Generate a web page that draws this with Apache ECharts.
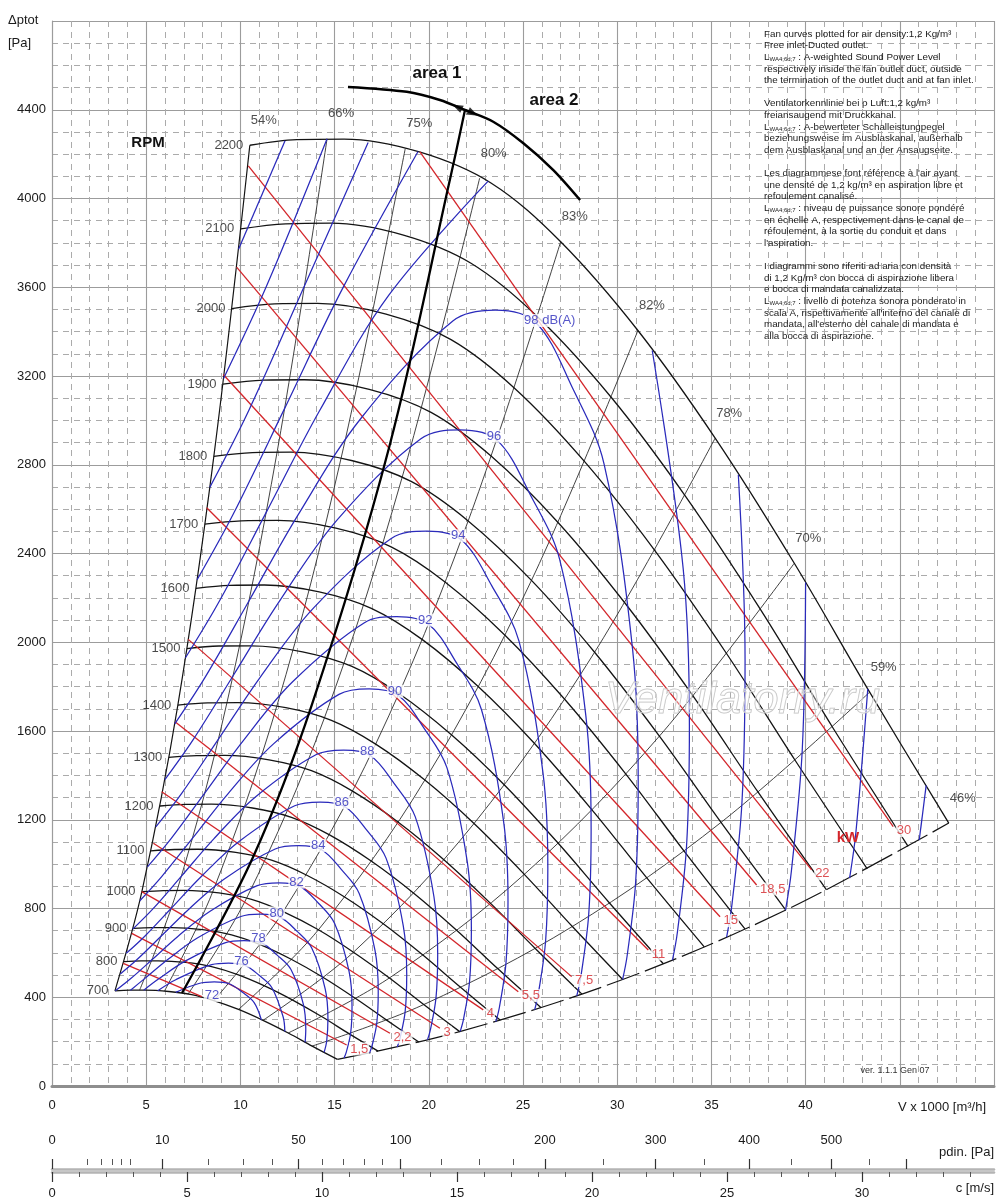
<!DOCTYPE html>
<html><head><meta charset="utf-8">
<script src="https://cdn.jsdelivr.net/npm/echarts@6/dist/echarts.min.js"></script>
<style>html,body{margin:0;padding:0;background:#fff}#c{width:1000px;height:1204px}</style>
</head><body><div id="c"></div>
<script>
// ---------- DATA (V x1000 m3/h , dp Pa) ----------
const rpmNames = [700,800,900,1000,1100,1200,1300,1400,1500,1600,1700,1800,1900,2000,2100,2200];
const rpm700 = [[3.34,429],[4.14,432],[4.93,432],[6.2,426],[7.41,412],[8.59,385],[9.9,345],[11.2,296],[12.54,239],[13.81,180],[15.15,120]];
const rpm800 = [[3.82,561],[4.73,564],[5.64,564],[7.09,557],[8.47,538],[9.82,503],[11.31,450],[12.8,386],[14.33,312],[15.78,235],[17.31,157]];
const rpm900 = [[4.3,710],[5.32,714],[6.34,714],[7.98,705],[9.53,681],[11.05,637],[12.72,570],[14.4,489],[16.12,394],[17.76,297],[19.47,198]];
const rpm1000 = [[4.77,876],[5.91,881],[7.05,882],[8.86,870],[10.59,841],[12.27,786],[14.14,704],[16.0,603],[17.91,487],[19.73,367],[21.64,245]];
const rpm1100 = [[5.25,1060],[6.5,1066],[7.75,1067],[9.75,1053],[11.65,1018],[13.5,951],[15.55,851],[17.6,730],[19.7,589],[21.7,444],[23.8,296]];
const rpm1200 = [[5.73,1262],[7.09,1269],[8.46,1270],[10.64,1253],[12.71,1211],[14.73,1132],[16.96,1013],[19.2,869],[21.49,701],[23.67,528],[25.96,353]];
const rpm1300 = [[6.2,1481],[7.68,1489],[9.16,1490],[11.52,1470],[13.77,1421],[15.95,1329],[18.38,1189],[20.8,1020],[23.28,823],[25.65,620],[28.13,414]];
const rpm1400 = [[6.68,1717],[8.27,1727],[9.86,1728],[12.41,1705],[14.83,1648],[17.18,1541],[19.79,1379],[22.4,1183],[25.07,954],[27.62,719],[30.29,480]];
const rpm1500 = [[7.16,1971],[8.86,1983],[10.57,1984],[13.3,1957],[15.89,1892],[18.41,1769],[21.2,1583],[24.0,1358],[26.86,1095],[29.59,825],[32.45,551]];
const rpm1600 = [[7.64,2243],[9.45,2256],[11.27,2258],[14.18,2227],[16.95,2153],[19.64,2013],[22.62,1801],[25.6,1545],[28.65,1246],[31.56,939],[34.62,627]];
const rpm1700 = [[8.11,2532],[10.05,2547],[11.98,2549],[15.07,2514],[18.0,2430],[20.86,2272],[24.03,2033],[27.2,1744],[30.45,1407],[33.54,1060],[36.78,708]];
const rpm1800 = [[8.59,2838],[10.64,2855],[12.68,2857],[15.95,2818],[19.06,2725],[22.09,2547],[25.45,2279],[28.8,1955],[32.24,1577],[35.51,1188],[38.95,793]];
const rpm1900 = [[9.07,3163],[11.23,3181],[13.39,3183],[16.84,3140],[20.12,3036],[23.32,2838],[26.86,2540],[30.4,2178],[34.03,1757],[37.48,1324],[41.11,884]];
const rpm2000 = [[9.55,3504],[11.82,3525],[14.09,3527],[17.73,3479],[21.18,3364],[24.55,3145],[28.27,2814],[32.0,2413],[35.82,1947],[39.45,1467],[43.27,979]];
const rpm2100 = [[10.02,3863],[12.41,3886],[14.8,3889],[18.61,3836],[22.24,3708],[25.77,3467],[29.69,3103],[33.6,2661],[37.61,2147],[41.43,1617],[45.44,1080]];
const rpm2200 = [[10.5,4240],[13,4265],[15.5,4268],[19.5,4210],[23.3,4070],[27,3805],[31.1,3405],[35.2,2920],[39.4,2356],[43.4,1775],[47.6,1185]];
const rpmCurves = [rpm700,rpm800,rpm900,rpm1000,rpm1100,rpm1200,rpm1300,rpm1400,rpm1500,rpm1600,rpm1700,rpm1800,rpm1900,rpm2000,rpm2100,rpm2200];

const effNames = ['54%','66%','75%','80%','83%','82%','78%','70%','59%','46%'];
const eff54 = [[3.34,429],[4.77,876],[6.68,1717],[8.59,2838],[10.5,4240]];
const eff66 = [[4.65,432],[6.64,882],[9.29,1729],[11.95,2858],[14.6,4269]];
const eff75 = [[5.97,428],[8.52,873],[11.93,1711],[15.34,2828],[18.75,4225]];
const eff80 = [[7.22,414],[10.32,845],[14.45,1657],[18.57,2739],[22.7,4092]];
const eff83 = [[8.59,385],[12.27,786],[17.18,1541],[22.09,2547],[27,3805]];
const eff82 = [[9.9,345],[14.14,704],[19.79,1379],[25.45,2279],[31.1,3405]];
const eff78 = [[11.2,296],[16.0,603],[22.4,1183],[28.8,1955],[35.2,2920]];
const eff70 = [[12.54,239],[17.91,487],[25.07,954],[32.24,1577],[39.4,2356]];
const eff59 = [[13.81,180],[19.73,367],[27.62,719],[35.51,1188],[43.4,1775]];
const eff46 = [[15.15,120],[21.64,245],[30.29,480],[38.95,793],[47.6,1185]];
const effLines = [eff54,eff66,eff75,eff80,eff83,eff82,eff78,eff70,eff59,eff46];

const kwNames = ['30','22','18,5','15','11','7,5','5,5','4','3','2,2','1,5',''];
const kw30 = [[19.53,4210],[44.65,1169]];
const kw22 = [[10.42,4147],[40.32,974]];
const kw18_5 = [[9.8,3691],[37.4,906]];
const kw15 = [[9.09,3207],[35.46,763]];
const kw11 = [[8.21,2606],[31.65,613]];
const kw7_5 = [[7.23,2013],[27.58,493]];
const kw5_5 = [[6.53,1642],[24.75,425]];
const kw4 = [[5.82,1326],[22.89,343]];
const kw3 = [[5.38,1094],[20.59,260]];
const kw2_2 = [[4.76,876],[17.94,238]];
const kw1_5 = [[4.23,688],[15.64,185]];
const kw1_1 = [[3.78,553],[7.95,403]];
const kwLines = [kw30,kw22,kw18_5,kw15,kw11,kw7_5,kw5_5,kw4,kw3,kw2_2,kw1_5,kw1_1];

const db98 = [[6.515,1632],[8.139,1844],[10.445,2185],[13.053,2573],[16.434,3013],[21.291,3449],[23.528,3497],[25.677,3441],[27.61,3149],[29.301,2804],[30.813,1971],[31.115,1373],[30.977,916],[30.528,587],[30.286,480]];
const db96 = [[5.992,1381],[7.485,1560],[9.606,1848],[12.004,2176],[15.114,2549],[19.581,2917],[21.638,2957],[23.615,2911],[25.393,2664],[26.948,2372],[28.338,1667],[28.616,1161],[28.489,775],[28.077,496],[27.854,406]];
const db94 = [[5.51,1168],[6.884,1319],[8.834,1563],[11.04,1841],[13.9,2156],[18.008,2468],[19.9,2501],[21.718,2462],[23.353,2253],[24.783,2006],[26.062,1410],[26.318,982],[26.201,655],[25.822,420],[25.617,343]];
const db92 = [[5.068,988],[6.331,1116],[8.125,1322],[10.154,1557],[12.784,1823],[16.561,2087],[18.302,2116],[19.974,2082],[21.478,1906],[22.793,1697],[23.969,1193],[24.204,831],[24.096,554],[23.748,355],[23.559,290]];
const db90 = [[4.661,835],[5.822,944],[7.472,1118],[9.338,1317],[11.757,1542],[15.231,1765],[16.832,1790],[18.369,1761],[19.752,1612],[20.962,1435],[22.044,1009],[22.26,703],[22.161,469],[21.84,300],[21.667,246]];
const db88 = [[4.286,707],[5.355,798],[6.872,946],[8.588,1114],[10.813,1304],[14.008,1493],[15.48,1514],[16.894,1490],[18.166,1363],[19.278,1214],[20.273,853],[20.472,594],[20.381,397],[20.086,254],[19.927,208]];
const db86 = [[3.942,598],[4.925,675],[6.32,800],[7.898,942],[9.944,1103],[12.883,1263],[14.236,1280],[15.537,1260],[16.707,1153],[17.73,1027],[18.645,722],[18.828,503],[18.744,335],[18.473,215],[18.326,176]];
const db84 = [[3.625,505],[4.529,571],[5.813,677],[7.264,797],[9.146,933],[11.848,1068],[13.093,1083],[14.289,1066],[15.365,975],[16.306,868],[17.147,610],[17.316,425],[17.239,284],[16.989,182],[16.854,149]];
const db82 = [[3.362,429],[4.165,483],[5.346,572],[6.68,674],[8.411,789],[10.896,903],[12.041,916],[13.141,901],[14.131,825],[14.996,734],[15.77,516],[15.925,360],[15.854,240],[15.625,154],[15.5,126]];
const db80 = [[4.167,432],[4.916,484],[6.144,570],[7.735,668],[10.021,764],[11.074,775],[12.086,762],[12.996,698],[13.792,621],[14.503,437],[14.646,304],[14.581,203],[14.443,152]];
const db78 = [[4.871,432],[5.65,482],[7.114,565],[9.216,646],[10.185,655],[11.115,645],[11.952,590],[12.684,525],[13.339,369],[13.47,257],[13.436,197]];
const db76 = [[5.613,429],[6.543,478],[8.476,547],[9.367,554],[10.222,545],[10.992,499],[11.666,444],[12.267,312],[12.358,246]];
const db74 = [[6.567,422],[7.796,462],[8.614,469],[9.401,461],[10.109,422],[10.729,376],[11.119,297]];
const db100L = [[7.084,1930],[8.85,2180],[11.357,2583],[14.193,3042],[17.869,3563],[23.15,4078]];
const db100R = [[31.86,3315],[33.504,2330],[33.832,1623],[33.682,1083],[33.195,693],[32.932,567]];
const db102L = [[7.703,2282],[9.622,2578],[12.349,3054],[15.432,3596],[19.43,4212]];
const db102R = [[36.43,2755],[36.787,1919],[36.624,1281],[36.094,820],[35.808,671]];
const db104L = [[8.375,2698],[10.463,3048],[13.427,3611],[16.78,4252]];
const db104R = [[40,2269],[39.822,1514],[39.246,969],[38.935,793]];
const db106L = [[9.107,3189],[11.376,3603],[14.6,4269]];
const db106R = [[43.3,1790],[42.673,1146],[42.335,937]];
const db108L = [[9.902,3771],[12.37,4260]];
const db108R = [[46.4,1355],[46.032,1108]];
const dbCurves = [db98,db96,db94,db92,db90,db88,db86,db84,db82,db80,db78,db76,db74,db100L,db100R,db102L,db102R,db104L,db104R,db106L,db106R,db108L,db108R];
// dB label: [level, V, p] where the contour crosses the 83% line
const dbLabels = [[98,25.677,3441],[96,23.615,2911],[94,21.718,2462],[92,19.974,2082],[90,18.369,1761],[88,16.894,1490],[86,15.537,1260],[84,14.289,1066],[82,13.141,901],[80,12.086,762],[78,11.115,645],[76,10.222,545],[72,8.646,390]];

const areaLine = [[6.9,419],[10.68,1033],[13.8,1720],[17.9,2880],[21.14,4092],[21.92,4399]];
const areaArc = [[15.71,4503],[18.83,4481],[20.59,4444],[21.92,4399],[23.42,4346],[25.02,4249],[26.61,4128],[28.03,3993]];
// arrowheads on the area boundary: [V, p, direction in degrees]
const areaArrows = [[21.5,4413,64],[22.35,4384,-116]];

// axis ticks
const xTickLabels = [0,5,10,15,20,25,30,35,40];
const pdinLabels = [0,10,50,100,200,300,400,500];
const pdinMajorTicks = [0,10,50,100,200,300,400,500,600];
const pdinMinorTicks = [1,2,3,4,5,20,30,40,60,70,80,90,125,150,175,250,350,450,550];
const cMajorTicks = [0,5,10,15,20,25,30];
const cMinorTicks = [1,2,3,4,6,7,8,9,11,12,13,14,16,17,18,19,21,22,23,24,26,27,28,29,31,32,33,34];
const C_MAX = 34.89;
function pdinToC(p){ return Math.sqrt(p/0.6); }

const noteLines = [
 'Fan curves plotted for air density:1,2 Kg/m³',
 'Free inlet-Ducted outlet.',
 '§ : A-weighted Sound Power Level',
 'respectively inside the fan outlet duct, outside',
 'the termination of the outlet duct and at fan inlet.',
 '',
 'Ventilatorkennlinie bei ρ Luft:1,2 kg/m³',
 'freiansaugend mit Druckkanal.',
 '§ : A-bewerteter Schalleistungpegel',
 'beziehungsweise im Ausblaskanal, außerhalb',
 'dem Ausblaskanal und an der Ansaugseite.',
 '',
 "Les diagrammese font référence à l'air ayant",
 'une densité de 1,2 kg/m³ en aspiration libre et',
 'refoulement canalisé.',
 '§ : niveau de puissance sonore pondéré',
 'en échelle A, respectivement dans le canal de',
 'réfoulement, à la sortie du conduit et dans',
 "l'aspiration.",
 '',
 'I diagrammi sono riferiti ad aria con densità',
 'di 1,2 Kg/m³ con bocca di aspirazione libera',
 'e bocca di mandata canalizzata.',
 '§ : livello di potenza sonora ponderato in',
 "scala A, rispettivamente all'interno del canale di",
 "mandata, all'esterno del canale di mandata e",
 'alla bocca di aspirazione.'
];

// ---------- CHART ----------
const FONT = "'Liberation Sans', Arial, Helvetica, sans-serif";
const BLACK = '#141414', EFF = '#2e2e2e', RED = '#d3252a', BLUE = '#2a2abb';

function ln(data, color, width, z, extra){
  return Object.assign({type:'line', xAxisIndex:0, yAxisIndex:0, data:data, showSymbol:false, symbol:'none',
    smooth:0.35, silent:true, animation:false, lineStyle:{color:color, width:width}, z:z}, extra||{});
}
const series = [];
effLines.forEach(function(d,i){
  if (i===0) series.push(ln(d, BLACK, 1.2, 2));
  else if (i===effLines.length-1) series.push(ln(d, BLACK, 1.2, 2, {lineStyle:{color:BLACK,width:1.2,type:[34,6]}}));
  else series.push(ln(d, EFF, 0.9, 2));
});
rpmCurves.forEach(function(d){ series.push(ln(d, BLACK, 1.3, 3)); });
kwLines.forEach(function(d){ series.push(ln(d, RED, 1.3, 4, {smooth:false})); });
dbCurves.forEach(function(d){ series.push(ln(d, BLUE, 1.25, 5)); });
series.push(ln(areaLine, '#000', 2.3, 6));
series.push(ln(areaArc, '#000', 2.5, 6, {smooth:0.3}));

function labelScatter(data, label, z){
  return {type:'scatter', xAxisIndex:0, yAxisIndex:0, silent:true, animation:false, z:z||20,
    symbolSize:1, itemStyle:{color:'rgba(0,0,0,0)'}, data:data,
    label:Object.assign({show:true, formatter:'{b}', fontFamily:FONT, fontSize:13}, label)};
}
series.push(labelScatter(rpmCurves.map(function(c,i){return {value:c[0], name:String(rpmNames[i])};}),
  {position:'left', distance:6, color:'#1a1a1a'}));
series.push(labelScatter(effLines.map(function(c,i){return {value:c[c.length-1], name:effNames[i]};}),
  {position:'inside', offset:[14,-25], color:'#222'}));
series.push(labelScatter(dbLabels.map(function(d){
    const item = {value:[d[1],d[2]], name: d[0]===98 ? '98 dB(A)' : String(d[0])};
    if (d[0]===98) item.label = {offset:[14,-2]};
    return item;}),
  {position:'inside', offset:[-3,-4], color:BLUE, backgroundColor:'#fff', padding:[0,1]}, 22));
series.push(labelScatter(kwLines.map(function(c,i){return {value:c[1], name:kwNames[i]};}).filter(function(d){return d.name;}),
  {position:'right', distance:2, offset:[0,4], color:RED, backgroundColor:'#fff', padding:[0,1]}, 21));
series.push({type:'scatter', xAxisIndex:0, yAxisIndex:0, silent:true, animation:false, z:25, symbol:'triangle',
  symbolSize:[8,11], itemStyle:{color:'#000'},
  data:areaArrows.map(function(a){return {value:[a[0],a[1]], symbolRotate:a[2]};})});

const graphics = [];
function txt(x,y,text,font,fill,align,extra){
  graphics.push(Object.assign({type:'text', x:x, y:y, z:100, silent:true,
    style:{text:text, font:font, fill:fill||'#1a1a1a', align:align||'left', verticalAlign:'middle',
      textAlign:align||'left', textVerticalAlign:'middle'}}, extra||{}));
}
noteLines.forEach(function(s,i){
  if (!s) return;
  const y = 34 + i*11.62;
  if (s.charAt(0)==='§'){
    graphics.push({type:'text', x:764, y:y, z:100, silent:true, style:{
      text:'{a|L}{s|WA4;6d;7}{a|'+s.slice(1)+'}', fill:'#1a1a1a', font:'9.8px '+FONT, verticalAlign:'middle',
      rich:{a:{font:'9.8px '+FONT, fill:'#1a1a1a'}, s:{font:'6px '+FONT, fill:'#1a1a1a', padding:[4,0,0,0]}}}});
  } else {
    txt(764, y, s, '9.8px '+FONT, '#1a1a1a');
  }
});
txt(437,73,'area 1','bold 17px '+FONT,'#111','center');
txt(554,100,'area 2','bold 17px '+FONT,'#111','center');
txt(148,143,'RPM','bold 15px '+FONT,'#111','center');
txt(848,838,'kW','bold 15px '+FONT,RED,'center', {z:101});
txt(8,20,'Δptot','13px '+FONT,'#1a1a1a','left');
txt(8,43,'[Pa]','13px '+FONT,'#1a1a1a','left');
txt(942,1107,'V x 1000 [m³/h]','13px '+FONT,'#1a1a1a','center');
txt(994,1152,'pdin. [Pa]','13px '+FONT,'#1a1a1a','right');
txt(994,1188,'c [m/s]','13px '+FONT,'#1a1a1a','right');
txt(895,1071,'ver. 1.1.1 Gen 07','9px '+FONT,'#333','center');
graphics.push({type:'text', x:605, y:700, z:90, silent:true, style:{text:'Ventilatorry.ru',
  font:'italic 45px '+FONT, fill:'rgba(255,255,255,0.35)', stroke:'#c2c2c2', lineWidth:1,
  align:'left', verticalAlign:'middle', textAlign:'left', textVerticalAlign:'middle'}});

const GRIDC = '#9c9c9c', DASHC = '#ababab';
const option = {
  animation:false,
  backgroundColor:'#fff',
  textStyle:{fontFamily:FONT},
  grid:[
    {left:52, right:6, top:21, height:1065},
    {left:52, right:6, top:1165, height:4},
    {left:52, right:6, top:1168, height:4}
  ],
  xAxis:[
    {type:'value', gridIndex:0, min:0, max:50, interval:5,
      axisLine:{show:true, onZero:false, lineStyle:{color:'#8e8e8e', width:3}},
      axisTick:{show:false},
      axisLabel:{customValues:xTickLabels, color:'#1a1a1a', fontSize:13, margin:13, fontFamily:FONT},
      splitLine:{show:true, lineStyle:{color:GRIDC, width:1.1}},
      minorTick:{show:false, splitNumber:5},
      minorSplitLine:{show:true, lineStyle:{color:DASHC, width:1, type:[6,5]}}},
    {type:'value', gridIndex:1, position:'top', min:0, max:C_MAX,
      axisLine:{show:true, lineStyle:{color:'#b4b4b4', width:2.5}},
      axisTick:{show:true, length:10, customValues:pdinMajorTicks.map(pdinToC), lineStyle:{color:'#333', width:1.2}},
      axisLabel:{show:true, customValues:pdinLabels.map(pdinToC), margin:18, color:'#1a1a1a', fontSize:13, fontFamily:FONT,
        formatter:function(v){return String(Math.round(0.6*v*v));}},
      splitLine:{show:false}},
    {type:'value', gridIndex:1, position:'top', min:0, max:C_MAX,
      axisLine:{show:false},
      axisTick:{show:true, length:6, customValues:pdinMinorTicks.map(pdinToC), lineStyle:{color:'#555', width:1}},
      axisLabel:{show:false}, splitLine:{show:false}},
    {type:'value', gridIndex:2, position:'bottom', min:0, max:C_MAX,
      axisLine:{show:true, lineStyle:{color:'#b4b4b4', width:2.5}},
      axisTick:{show:true, length:10, customValues:cMajorTicks, lineStyle:{color:'#333', width:1.2}},
      axisLabel:{show:true, customValues:cMajorTicks, margin:15, color:'#1a1a1a', fontSize:13, fontFamily:FONT},
      splitLine:{show:false}},
    {type:'value', gridIndex:2, position:'bottom', min:0, max:C_MAX,
      axisLine:{show:false},
      axisTick:{show:true, length:5, customValues:cMinorTicks, lineStyle:{color:'#555', width:1}},
      axisLabel:{show:false}, splitLine:{show:false}}
  ],
  yAxis:[
    {type:'value', gridIndex:0, min:0, max:4800, interval:400,
      axisLine:{show:true, lineStyle:{color:GRIDC, width:1.1}},
      axisTick:{show:false},
      axisLabel:{color:'#1a1a1a', fontSize:13, margin:6, fontFamily:FONT, formatter:function(v){return v===4800?'':String(v);}},
      splitLine:{show:true, lineStyle:{color:GRIDC, width:1.1}},
      minorTick:{show:false, splitNumber:4},
      minorSplitLine:{show:true, lineStyle:{color:DASHC, width:1, type:[6,5]}}},
    {type:'value', gridIndex:1, show:false},
    {type:'value', gridIndex:2, show:false}
  ],
  series:series,
  graphic:graphics
};
const chart = echarts.init(document.getElementById('c'));
chart.setOption(option);
</script>
</body></html>
